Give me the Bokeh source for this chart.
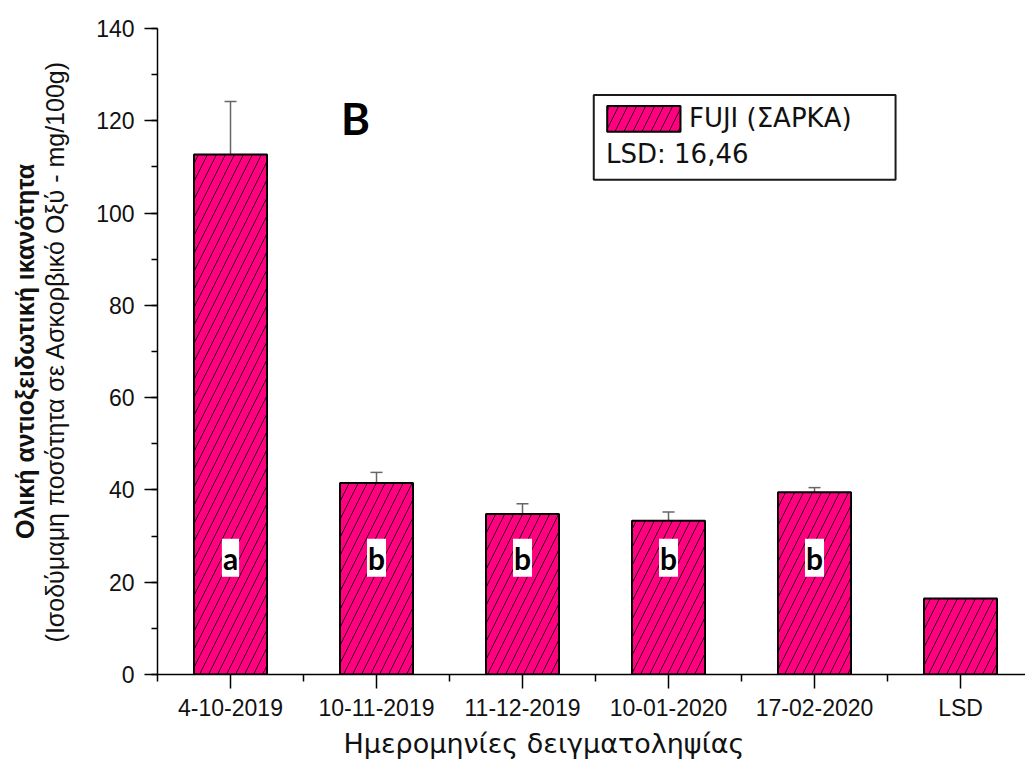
from bokeh.plotting import figure
from bokeh.models import (ColumnDataSource, Range1d, FixedTicker, LinearAxis,
                          Whisker, TeeHead, Label, BoxAnnotation, Title)
from bokeh.embed import file_html
from bokeh.resources import INLINE

# Sampling dates and the LSD reference bar
dates = ["4-10-2019", "10-11-2019", "11-12-2019", "10-01-2020", "17-02-2020", "LSD"]
# Total antioxidant capacity (mg ascorbic acid / 100 g)
antioxidant = [112.7, 41.5, 34.8, 33.3, 39.5, 16.46]
# Error (upper only) for the sampled dates
errors = [11.5, 2.3, 2.2, 1.9, 1.0]
# Significance groups
groups = ["a", "b", "b", "b", "b"]
series_name = "FUJI (ΣΑΡΚΑ)"
lsd_text = "LSD: 16,46"
panel_letter = "B"
y_ticks = [0, 20, 40, 60, 80, 100, 120, 140]

FONT = "Liberation Sans"
WIDE_FONT = "DejaVu Sans"
BAR_FILL = "#FF0080"

xs = list(range(len(dates)))
bars = ColumnDataSource(dict(x=xs, value=antioxidant))
err_src = ColumnDataSource(dict(
    x=xs[:len(errors)],
    lower=antioxidant[:len(errors)],
    upper=[v + e for v, e in zip(antioxidant, errors)],
))

p = figure(width=1025, height=764, output_backend="svg", toolbar_location=None,
           x_range=Range1d(-0.5, 5.445), y_range=Range1d(0, 140),
           min_border_left=157, min_border_right=0, min_border_top=28,
           min_border_bottom=90)
p.outline_line_color = None
p.xgrid.visible = False
p.ygrid.visible = False
p.background_fill_color = "white"
p.border_fill_color = "white"

bar_style = dict(fill_color=BAR_FILL, line_color="black", line_width=2,
                 hatch_pattern="/", hatch_color="black", hatch_weight=0.8,
                 hatch_scale=18)
p.vbar(x="x", top="value", width=0.5, source=bars, **bar_style)

whisker = Whisker(base="x", lower="lower", upper="upper", source=err_src,
                  dimension="height", line_color="#666666", line_width=1.5,
                  lower_head=None,
                  upper_head=TeeHead(size=12, line_color="#666666", line_width=1.5))
p.add_layout(whisker)

# x axis
xa = p.xaxis[0]
xa.ticker = FixedTicker(ticks=xs, minor_ticks=[i - 0.5 for i in range(len(dates) + 1)])
xa.major_label_overrides = {i: d for i, d in zip(xs, dates)}
xa.major_tick_out = 14
xa.major_tick_in = 0
xa.minor_tick_out = 7
xa.minor_tick_in = 0
xa.axis_line_width = 1.5
xa.major_tick_line_width = 1.5
xa.minor_tick_line_width = 1.5
xa.axis_line_color = "black"
xa.major_label_standoff = 6
xa.major_label_text_font = FONT
xa.major_label_text_font_size = "23px"
xa.major_label_text_color = "#111111"

# y axis
ya = p.yaxis[0]
ya.ticker = FixedTicker(ticks=y_ticks, minor_ticks=list(range(0, 141, 10)))
ya.major_tick_out = 13
ya.major_tick_in = 0
ya.minor_tick_out = 6
ya.minor_tick_in = 0
ya.axis_line_width = 1.5
ya.major_tick_line_width = 1.5
ya.minor_tick_line_width = 1.5
ya.major_label_standoff = 10
ya.major_label_text_font = FONT
ya.major_label_text_font_size = "23px"
ya.major_label_text_color = "#111111"
ya.axis_label = "(Ισοδύμαμη ποσότητα σε Ασκορβικό Οξύ - mg/100g)"
ya.axis_label_text_font = FONT
ya.axis_label_text_font_size = "25px"
ya.axis_label_text_font_style = "normal"
ya.axis_label_text_color = "#111111"
ya.axis_label_standoff = 24

title_axis = LinearAxis(ticker=FixedTicker(ticks=[]),
                        axis_label="Ολική αντιοξειδωτική ικανότητα",
                        axis_line_color=None, major_tick_line_color=None,
                        minor_tick_line_color=None, major_tick_out=0, minor_tick_out=0,
                        major_tick_in=0, minor_tick_in=0,
                        major_label_text_font_size="0px", major_label_standoff=0,
                        axis_label_standoff=0, axis_label_text_font=FONT,
                        axis_label_text_font_size="25px",
                        axis_label_text_font_style="bold",
                        axis_label_text_color="#111111")
p.add_layout(title_axis, "left")

# x axis title
p.add_layout(Title(text="Ημερομηνίες δειγματοληψίας", align="left", offset=186,
                   standoff=4, text_font=WIDE_FONT, text_font_size="27px",
                   text_font_style="normal", text_color="#111111"), "below")

# significance letters
for x, g in zip(xs, groups):
    p.add_layout(Label(x=x, y=25.3, text=g, text_align="center",
                       text_baseline="middle", text_font="Lato",
                       text_font_style="bold", text_font_size="30px",
                       text_color="black", background_fill_color="white",
                       padding=1))

# panel letter
p.add_layout(Label(x=0.856, y=120.7, text=panel_letter, text_align="center",
                   text_baseline="middle", text_font="Lato",
                   text_font_style="bold", text_font_size="44px", text_color="black"))

# legend box
p.add_layout(BoxAnnotation(left=2.488, right=4.555, top=125.6, bottom=107.2,
                           fill_color="white", fill_alpha=1, line_color="#1a1a1a",
                           line_alpha=1, line_width=2, level="annotation"))
p.quad(left=[2.580], right=[3.082], top=[123.2], bottom=[117.6],
       level="overlay", **bar_style)
p.add_layout(Label(x=3.140, y=120.6, text=series_name, text_align="left",
                   text_baseline="middle", text_font=WIDE_FONT,
                   text_font_size="26px", text_color="#111111"))
p.add_layout(Label(x=2.572, y=112.8, text=lsd_text, text_align="left",
                   text_baseline="middle", text_font=WIDE_FONT,
                   text_font_size="26px", text_color="#111111"))

open("out.html", "w").write(file_html(p, INLINE))
